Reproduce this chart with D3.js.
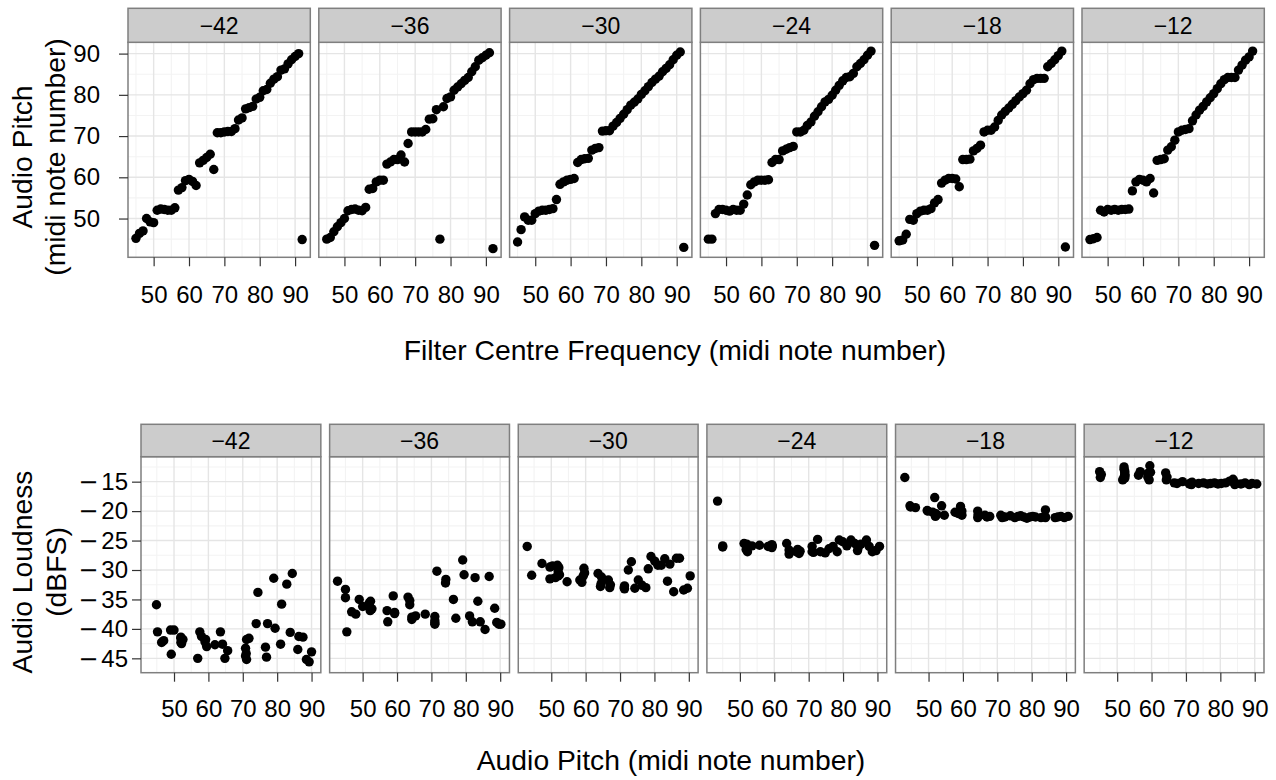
<!DOCTYPE html>
<html>
<head>
<meta charset="utf-8">
<script src="https://cdn.jsdelivr.net/npm/d3@7"></script>
<style>
  body { margin: 0; background: #fff; }
  svg { display: block; font-family: "Liberation Sans", Arial, Helvetica, sans-serif; }
</style>
</head>
<body>
<svg id="chart" width="1276" height="780"></svg>
<script>
// facet levels (filter gain, dB)
const levels = ['\u221242', '\u221236', '\u221230', '\u221224', '\u221218', '\u221212'];

// filter centre frequency, shared by every panel
const filterFreq = [45, 46, 47, 48, 49, 50, 51, 52, 53, 54, 55, 56, 57, 58, 59, 60,
  61, 62, 63, 64, 65, 66, 67, 68, 69, 70, 71, 72, 73, 74, 75, 76,
  77, 78, 79, 80, 81, 82, 83, 84, 85, 86, 87, 88, 89, 90, 91, 92];

// audio pitch measured at each filter frequency
const pitch42 = [45.2, 46.4, 47.0, 50.0, 49.2, 49.0, 52.0, 52.3, 52.2, 52.0, 52.0, 52.6, 56.9, 57.5, 59.2, 59.5,
  59.0, 58.0, 63.5, 64.1, 64.8, 65.6, 61.9, 70.8, 70.8, 71.0, 71.1, 71.1, 71.8, 73.9, 74.4, 76.6,
  76.9, 77.2, 79.0, 79.4, 81.0, 81.3, 82.8, 83.8, 84.4, 86.0, 86.3, 87.5, 88.5, 89.3, 90.0, 44.9];
const pitch36 = [45.0, 45.4, 46.8, 48.0, 49.0, 50.0, 51.9, 52.2, 52.3, 52.0, 51.9, 52.7, 57.1, 57.3, 58.9, 59.3,
  59.3, 63.2, 63.7, 64.3, 64.3, 65.4, 63.7, 68.2, 71.0, 71.0, 71.0, 71.0, 71.6, 74.1, 74.2, 76.4,
  45.0, 77.1, 79.1, 79.5, 81.1, 81.9, 82.7, 83.5, 84.2, 85.6, 86.8, 88.4, 89.0, 89.6, 90.2, 42.7];
const pitch30 = [44.3, 47.3, 50.4, 49.6, 49.6, 51.2, 51.8, 52.0, 52.0, 52.2, 52.4, 54.6, 58.3, 58.9, 59.3, 59.5,
  59.7, 63.6, 64.3, 64.5, 64.6, 66.6, 67.0, 67.2, 71.2, 71.3, 71.3, 72.4, 73.3, 74.3, 75.3, 76.4,
  77.5, 78.2, 79.0, 80.1, 81.0, 82.0, 83.0, 83.8, 84.5, 85.6, 86.4, 87.3, 88.5, 89.6, 90.4, 43.0];
const pitch24 = [45.0, 45.0, 51.2, 52.2, 52.2, 52.0, 51.8, 52.2, 52.0, 52.0, 53.5, 55.7, 58.2, 58.9, 59.3, 59.3,
  59.3, 59.4, 63.6, 64.3, 64.3, 66.4, 66.8, 67.2, 67.5, 71.0, 71.0, 71.4, 72.6, 73.4, 74.8, 75.9,
  77.1, 78.3, 78.9, 79.9, 81.1, 82.3, 83.4, 84.2, 84.4, 85.2, 86.8, 87.6, 88.5, 89.6, 90.6, 43.5];
const pitch18 = [44.6, 44.8, 46.2, 49.8, 49.6, 51.2, 51.8, 52.0, 52.0, 52.4, 53.8, 54.6, 58.6, 59.3, 59.7, 59.7,
  59.6, 57.7, 64.3, 64.3, 64.4, 66.4, 67.0, 67.8, 71.0, 71.4, 71.4, 72.2, 73.8, 75.1, 76.0, 76.8,
  77.7, 78.6, 79.5, 80.3, 81.1, 82.7, 83.7, 84.0, 84.0, 84.0, 86.8, 87.6, 88.5, 89.5, 90.6, 43.1];
const pitch12 = [44.9, 45.1, 45.4, 52.0, 51.6, 52.2, 52.0, 52.2, 52.0, 52.2, 52.2, 52.3, 56.7, 58.9, 59.5, 59.3,
  58.9, 59.7, 56.2, 64.1, 64.3, 64.5, 66.6, 67.4, 69.0, 71.0, 71.4, 71.6, 71.8, 73.7, 75.1, 76.3,
  77.2, 78.3, 79.3, 80.3, 81.5, 82.7, 83.7, 84.2, 84.2, 84.2, 86.0, 87.2, 88.4, 89.2, 90.6, null];

// audio loudness (dBFS) of the same notes
const loud42 = [-40.5, -42.3, -42.0, -40.2, -44.3, -40.2, -41.4, -42.0, -42.5, -41.6, -42.3, -41.8, -45.0, -40.5, -41.8, -43.0,
  -42.2, -41.3, -40.5, -42.6, -45.0, -43.7, -42.7, -43.3, -44.6, -44.2, -45.2, -41.8, -41.6, -39.1, -33.8, -43.1,
  -44.8, -39.1, -31.4, -39.9, -42.6, -35.8, -32.4, -40.6, -30.6, -43.5, -41.3, -41.4, -45.2, -45.6, -43.9, -35.9];
const loud36 = [-33.3, -40.5, -37.1, -37.5, -35.0, -36.2, -35.9, -36.9, -35.3, -36.4, -35.6, -36.6, -36.9, -38.8, -34.4, -37.4,
  -37.2, -34.6, -35.9, -38.4, -38.0, -37.8, -35.2, -37.5, -37.9, -39.2, -38.6, -39.0, -30.2, -32.2, -31.6, -35.0,
  -34.7, -38.2, -28.3, -30.8, -37.8, -38.8, -31.3, -35.3, -38.8, -40.1, -31.1, -36.5, -38.9, -39.2, -39.2, -31.9];
const loud30 = [-30.9, -28.9, -29.3, -31.5, -29.5, -31.3, -29.2, -30.3, -31.0, -29.6, -30.8, -32.0, -31.7, -32.1, -31.0, -29.7,
  -30.5, -30.6, -32.8, -32.3, -31.2, -31.7, -33.0, -32.5, -33.0, -32.7, -33.2, -30.0, -28.6, -33.1, -31.7, -32.6,
  -33.0, -29.8, -27.7, -28.5, -29.2, -29.2, -28.1, -31.9, -29.0, -33.7, -28.0, -28.0, -33.4, -33.1, -31.0, -26.0];
const loud24 = [-25.9, -26.1, -25.5, -26.9, -26.0, -25.6, -26.5, -25.9, -26.3, -25.8, -25.9, -25.8, -26.0, -25.9, -26.2, -25.7,
  -26.0, -25.9, -25.5, -27.3, -26.6, -26.9, -26.5, -27.2, -26.8, -26.9, -26.0, -27.0, -24.8, -26.9, -27.1, -26.4,
  -26.0, -26.9, -24.9, -25.2, -25.9, -24.9, -25.5, -26.7, -26.2, -25.6, -24.9, -26.0, -26.9, -26.7, -26.0, -18.3];
const loud18 = [-19.1, -19.3, -19.4, -20.0, -19.9, -20.2, -17.7, -20.9, -20.4, -20.6, -19.1, -20.7, -20.4, -19.2, -20.7, -20.0,
  -20.5, -20.2, -20.0, -21.1, -20.6, -20.7, -21.0, -20.9, -20.7, -21.1, -20.9, -21.0, -20.8, -21.1, -20.9, -20.8,
  -21.0, -21.2, -21.0, -20.9, -21.0, -21.1, -20.9, -19.8, -21.1, -21.0, -21.1, -21.0, -20.9, -21.1, -20.9, -14.3];
const loud12 = [-13.3, -14.3, -13.8, -12.5, -14.7, -13.2, -14.2, -13.8, -12.9, -14.4, -13.5, -14.0, -13.3, -13.6, -12.3, -14.7,
  -14.2, -13.4, -13.9, -13.5, -14.7, -14.2, -15.2, -15.3, -15.0, -15.4, -15.2, -15.5, -15.1, -15.3, -15.2, -15.4,
  -15.3, -15.2, -15.4, -15.3, -15.2, -14.9, -14.6, -15.3, -15.5, -15.1, -15.4, -15.2, -15.5, -15.3, -15.4, null];

const pitchByLevel = [pitch42, pitch36, pitch30, pitch24, pitch18, pitch12];
const loudByLevel = [loud42, loud36, loud30, loud24, loud18, loud12];

// axis breaks
const pitchTicks = [50, 60, 70, 80, 90];
const pitchMinor = [45, 55, 65, 75, 85];
const loudTicks = [-15, -20, -25, -30, -35, -40, -45];
const loudMinor = [-12.5, -17.5, -22.5, -27.5, -32.5, -37.5, -42.5];

const svg = d3.select('#chart');
const FONT = '"Liberation Sans", Arial, Helvetica, sans-serif';

function styleAxis(ax) {
    ax.select('.domain').remove();
    ax.selectAll('.tick line').attr('stroke', '#333').attr('stroke-width', 1.2);
    ax.selectAll('.tick text')
        .attr('fill', '#000')
        .attr('font-size', 24)
        .attr('font-family', FONT)
        .each(function(d) {
            if (d >= 0) return;
            // wide minus sign as in the original output
            const t = d3.select(this).text('');
            t.append('tspan').attr('font-family', '"DejaVu Sans"').text('\u2212');
            t.append('tspan').attr('dx', 3).text(Math.abs(d));
        });
}

function drawRow(row) {
    const w = (row.right - row.left - row.gap * 5) / 6;
    const h = row.bottom - row.top;
    const x = d3.scaleLinear().domain(row.xDomain).range([0, w]);
    const y = d3.scaleLinear().domain(row.yDomain).range([h, 0]);

    levels.forEach((level, i) => {
        const g = svg.append('g')
            .attr('transform', `translate(${row.left + i * (w + row.gap)},${row.top})`);

        g.append('rect').attr('width', w).attr('height', h).attr('fill', '#fff');

        // minor grid
        g.selectAll('.minor-x').data(row.xMinor).enter().append('line')
            .attr('x1', d => x(d)).attr('x2', d => x(d)).attr('y1', 0).attr('y2', h)
            .attr('stroke', '#f3f3f3').attr('stroke-width', 1.1);
        g.selectAll('.minor-y').data(row.yMinor).enter().append('line')
            .attr('y1', d => y(d)).attr('y2', d => y(d)).attr('x1', 0).attr('x2', w)
            .attr('stroke', '#f3f3f3').attr('stroke-width', 1.1);
        // major grid
        g.selectAll('.major-x').data(row.xTicks).enter().append('line')
            .attr('x1', d => x(d)).attr('x2', d => x(d)).attr('y1', 0).attr('y2', h)
            .attr('stroke', '#e5e5e5').attr('stroke-width', 1.4);
        g.selectAll('.major-y').data(row.yTicks).enter().append('line')
            .attr('y1', d => y(d)).attr('y2', d => y(d)).attr('x1', 0).attr('x2', w)
            .attr('stroke', '#e5e5e5').attr('stroke-width', 1.4);

        const pts = d3.zip(row.xs(i), row.ys(i)).filter(d => d[0] != null && d[1] != null);
        g.selectAll('.pt').data(pts).enter().append('circle')
            .attr('cx', d => x(d[0]))
            .attr('cy', d => y(d[1]))
            .attr('r', 4.7)
            .attr('fill', '#000');

        g.append('rect').attr('width', w).attr('height', h)
            .attr('fill', 'none').attr('stroke', '#7f7f7f').attr('stroke-width', 1.5);

        // strip
        g.append('rect')
            .attr('y', row.stripTop - row.top).attr('width', w).attr('height', row.top - row.stripTop)
            .attr('fill', '#cccccc').attr('stroke', '#7f7f7f').attr('stroke-width', 1.5);
        g.append('text')
            .attr('x', w / 2).attr('y', (row.stripTop - row.top) / 2)
            .attr('dy', '0.36em').attr('text-anchor', 'middle')
            .attr('font-size', 23).attr('fill', '#000')
            .text(level);

        g.append('g')
            .attr('transform', `translate(0,${h})`)
            .call(d3.axisBottom(x).tickValues(row.xTicks).tickSize(9).tickPadding(row.xPad))
            .call(styleAxis);

        if (i === 0) {
            g.append('g')
                .call(d3.axisLeft(y).tickValues(row.yTicks).tickSize(9).tickPadding(row.yPad))
                .call(styleAxis);
        }
    });

    // axis titles
    svg.append('text')
        .attr('x', row.xTitleX).attr('y', row.xTitleY)
        .attr('text-anchor', 'middle').attr('font-size', 28.3).attr('fill', '#000')
        .text(row.xTitle);
    row.yTitle.forEach((line, k) => {
        svg.append('text')
            .attr('transform', `translate(${row.yTitleX[k]},${row.yTitleY}) rotate(-90)`)
            .attr('text-anchor', 'middle').attr('font-size', 28.3).attr('fill', '#000')
            .text(line);
    });
}

drawRow({
    left: 128, right: 1264.3, gap: 8.5,
    stripTop: 8.3, top: 42.3, bottom: 257.3,
    xDomain: [42.75, 94.3], yDomain: [40.6, 92.74],
    xTicks: pitchTicks, xMinor: pitchMinor,
    yTicks: pitchTicks, yMinor: pitchMinor,
    xPad: 20, yPad: 19,
    xs: () => filterFreq,
    ys: i => pitchByLevel[i],
    xTitle: 'Filter Centre Frequency (midi note number)',
    xTitleX: 675, xTitleY: 360,
    yTitle: ['Audio Pitch', '(midi note number)'],
    yTitleX: [32, 65], yTitleY: 157
});

drawRow({
    left: 141, right: 1264, gap: 8.8,
    stripTop: 424.3, top: 456.7, bottom: 672.7,
    xDomain: [40.4, 92.7], yDomain: [-47.44, -10.76],
    xTicks: pitchTicks, xMinor: pitchMinor,
    yTicks: loudTicks, yMinor: loudMinor,
    xPad: 18, yPad: 4,
    xs: i => pitchByLevel[i],
    ys: i => loudByLevel[i],
    xTitle: 'Audio Pitch (midi note number)',
    xTitleX: 671, xTitleY: 770,
    yTitle: ['Audio Loudness', '(dBFS)'],
    yTitleX: [32, 66], yTitleY: 572
});
</script>
</body>
</html>
